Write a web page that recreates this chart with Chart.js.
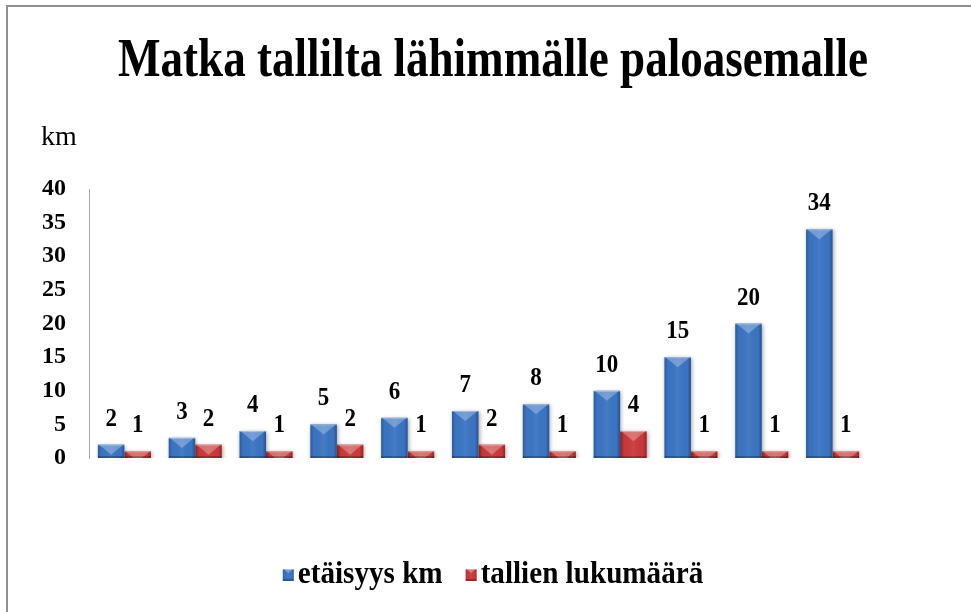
<!DOCTYPE html>
<html><head><meta charset="utf-8">
<script src="https://cdn.jsdelivr.net/npm/chart.js@4.4.0/dist/chart.umd.min.js"></script>
<style>html,body{margin:0;padding:0;background:#fff;overflow:hidden}#wrap{width:971px;height:612px;position:relative}</style>
</head><body><div id="wrap"><canvas id="c" width="971" height="612"></canvas></div>
<script>
const chartTitle = 'Matka tallilta lähimmälle paloasemalle';
const yUnitLabel = 'km';
const categories = ['1','2','3','4','5','6','7','8','9','10','11'];
const distanceKm = [2, 3, 4, 5, 6, 7, 8, 10, 15, 20, 34];
const stableCount = [1, 2, 1, 2, 1, 2, 1, 4, 1, 1, 1];
const seriesNames = ['etäisyys km', 'tallien lukumäärä'];
const yTickValues = [0, 5, 10, 15, 20, 25, 30, 35, 40];

const SERIF = '"Liberation Serif", "Times New Roman", serif';
const BLUE = '#3a74c2';
const RED = '#c9393a';

function drawBevel(ctx, left, top, w, h, light) {
  ctx.save();
  ctx.beginPath(); ctx.rect(left, top, w, h); ctx.clip();
  const g = ctx.createLinearGradient(left, 0, left + w, 0);
  g.addColorStop(0, 'rgba(0,0,0,0.22)');
  g.addColorStop(0.14, 'rgba(0,0,0,0)');
  g.addColorStop(0.5, 'rgba(255,255,255,0.06)');
  g.addColorStop(0.86, 'rgba(0,0,0,0)');
  g.addColorStop(1, 'rgba(0,0,0,0.3)');
  ctx.fillStyle = g; ctx.fillRect(left, top, w, h);
  ctx.beginPath();
  ctx.moveTo(left + 1, top); ctx.lineTo(left + w - 1, top); ctx.lineTo(left + w / 2, top + w * 0.38); ctx.closePath();
  ctx.fillStyle = light; ctx.fill();
  ctx.fillStyle = 'rgba(255,255,255,0.35)'; ctx.fillRect(left, top, w, 1);
  ctx.fillStyle = 'rgba(0,0,0,0.25)'; ctx.fillRect(left, top + h - 2, w, 2);
  ctx.restore();
}

const decor = {
  id: 'decor',
  beforeDraw(chart) {
    const ctx = chart.ctx;
    ctx.save();
    ctx.fillStyle = '#fff'; ctx.fillRect(0, 0, chart.width, chart.height);
    ctx.fillStyle = '#8f8f8f';
    ctx.fillRect(6, 5, chart.width - 6, 2);
    ctx.fillRect(6, 5, 2, chart.height - 5);
    ctx.restore();
  },
  beforeDatasetsDraw(chart) {
    const ctx = chart.ctx;
    ctx.save();
    ctx.shadowColor = 'rgba(0,0,0,0.35)';
    ctx.shadowBlur = 4; ctx.shadowOffsetX = 1; ctx.shadowOffsetY = 1;
  },
  afterDatasetsDraw(chart) {
    const ctx = chart.ctx;
    ctx.restore();
    chart.data.datasets.forEach((ds, di) => {
      const meta = chart.getDatasetMeta(di);
      meta.data.forEach((el, i) => {
        const p = el.getProps(['x', 'y', 'base', 'width'], true);
        const left = p.x - p.width / 2, top = Math.min(p.y, p.base);
        const h = Math.abs(p.base - p.y);
        drawBevel(ctx, left, top, p.width, h, 'rgba(255,255,255,0.28)');
        ctx.save();
        ctx.fillStyle = '#000';
        ctx.font = 'bold 25px ' + SERIF;
        ctx.textAlign = 'center'; ctx.textBaseline = 'alphabetic';
        ctx.translate(p.x, p.y - 19); ctx.scale(0.92, 1);
        ctx.fillText(String(ds.data[i]), 0, 0);
        ctx.restore();
      });
    });
  },
  afterDraw(chart) {
    const ctx = chart.ctx;
    ctx.save();
    // title
    ctx.fillStyle = '#000';
    ctx.font = 'bold 54px ' + SERIF;
    const tw = ctx.measureText(chartTitle).width;
    const sx = 750 / tw;
    ctx.translate(493, 76); ctx.scale(sx, 1);
    ctx.textAlign = 'center'; ctx.textBaseline = 'alphabetic';
    ctx.fillText(chartTitle, 0, 0);
    ctx.restore();
    // unit label
    ctx.save();
    ctx.fillStyle = '#000';
    ctx.font = '28px ' + SERIF;
    ctx.textAlign = 'left'; ctx.textBaseline = 'alphabetic';
    ctx.fillText(yUnitLabel, 41, 145);
    // legend
    const lsx = 0.94;
    ctx.font = 'bold 31px ' + SERIF;
    const colors = chart.data.datasets.map(d => d.backgroundColor);
    const widths = seriesNames.map(s => ctx.measureText(s).width * lsx);
    const box = 11, gap = 4, between = 23;
    const total = widths.reduce((a, w) => a + box + gap + w, 0) + between * (widths.length - 1);
    let x = 493 - total / 2;
    const cy = 575;
    seriesNames.forEach((s, i) => {
      ctx.save();
      ctx.fillStyle = colors[i];
      ctx.fillRect(x, cy - 6, box, 12);
      drawBevel(ctx, x, cy - 6, box, 12, 'rgba(255,255,255,0.3)');
      ctx.restore();
      ctx.save();
      ctx.fillStyle = '#000';
      ctx.translate(x + box + gap, 583); ctx.scale(lsx, 1);
      ctx.fillText(s, 0, 0);
      ctx.restore();
      x += box + gap + widths[i] + between;
    });
    ctx.restore();
  }
};

new Chart(document.getElementById('c'), {
  type: 'bar',
  data: {
    labels: categories,
    datasets: [
      { label: seriesNames[0], data: distanceKm, backgroundColor: BLUE, borderWidth: 0 },
      { label: seriesNames[1], data: stableCount, backgroundColor: RED, borderWidth: 0 }
    ]
  },
  options: {
    responsive: false,
    animation: false,
    devicePixelRatio: 1,
    layout: { padding: { top: 189, right: 103, bottom: 154, left: 0 } },
    plugins: { legend: { display: false }, title: { display: false }, tooltip: { enabled: false } },
    datasets: { bar: { barPercentage: 1, categoryPercentage: 0.75 } },
    scales: {
      x: { display: false, offset: true },
      y: {
        min: 0, max: 40,
        afterBuildTicks(scale) { scale.ticks = yTickValues.map(v => ({ value: v })); },
        afterFit(scale) { scale.width = 89; },
        grid: { display: false, drawTicks: false },
        border: { display: true, color: '#a6a6a6', width: 1 },
        ticks: { padding: 23, color: '#000', font: { family: SERIF, size: 24, weight: 'bold' } }
      }
    }
  },
  plugins: [decor]
});
</script>
</body></html>
